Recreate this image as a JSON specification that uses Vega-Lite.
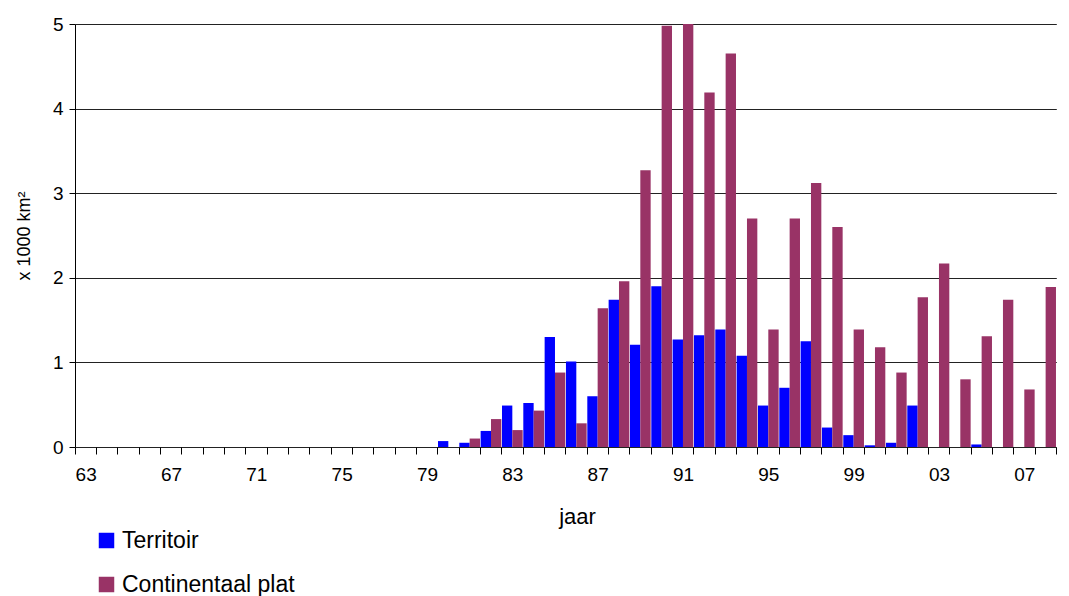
{
  "$schema": "https://vega.github.io/schema/vega-lite/v6.json",
  "width": 994,
  "height": 423,
  "autosize": {"type": "none"},
  "padding": {"left": 75, "top": 24, "right": 0, "bottom": 149},
  "background": "white",
  "config": {"view": {"stroke": null}, "font": "Liberation Sans"},
  "data": {
    "values": [
      {"jaar": 1980, "serie": "Territoir", "waarde": 0.07},
      {"jaar": 1980, "serie": "Continentaal plat", "waarde": 0},
      {"jaar": 1981, "serie": "Territoir", "waarde": 0.05},
      {"jaar": 1981, "serie": "Continentaal plat", "waarde": 0.10},
      {"jaar": 1982, "serie": "Territoir", "waarde": 0.19},
      {"jaar": 1982, "serie": "Continentaal plat", "waarde": 0.33},
      {"jaar": 1983, "serie": "Territoir", "waarde": 0.49},
      {"jaar": 1983, "serie": "Continentaal plat", "waarde": 0.20},
      {"jaar": 1984, "serie": "Territoir", "waarde": 0.52},
      {"jaar": 1984, "serie": "Continentaal plat", "waarde": 0.43},
      {"jaar": 1985, "serie": "Territoir", "waarde": 1.30},
      {"jaar": 1985, "serie": "Continentaal plat", "waarde": 0.88},
      {"jaar": 1986, "serie": "Territoir", "waarde": 1.01},
      {"jaar": 1986, "serie": "Continentaal plat", "waarde": 0.28},
      {"jaar": 1987, "serie": "Territoir", "waarde": 0.60},
      {"jaar": 1987, "serie": "Continentaal plat", "waarde": 1.64},
      {"jaar": 1988, "serie": "Territoir", "waarde": 1.74},
      {"jaar": 1988, "serie": "Continentaal plat", "waarde": 1.96},
      {"jaar": 1989, "serie": "Territoir", "waarde": 1.21},
      {"jaar": 1989, "serie": "Continentaal plat", "waarde": 3.27},
      {"jaar": 1990, "serie": "Territoir", "waarde": 1.90},
      {"jaar": 1990, "serie": "Continentaal plat", "waarde": 4.98},
      {"jaar": 1991, "serie": "Territoir", "waarde": 1.27},
      {"jaar": 1991, "serie": "Continentaal plat", "waarde": 5.00},
      {"jaar": 1992, "serie": "Territoir", "waarde": 1.32},
      {"jaar": 1992, "serie": "Continentaal plat", "waarde": 4.19},
      {"jaar": 1993, "serie": "Territoir", "waarde": 1.39},
      {"jaar": 1993, "serie": "Continentaal plat", "waarde": 4.65},
      {"jaar": 1994, "serie": "Territoir", "waarde": 1.08},
      {"jaar": 1994, "serie": "Continentaal plat", "waarde": 2.70},
      {"jaar": 1995, "serie": "Territoir", "waarde": 0.49},
      {"jaar": 1995, "serie": "Continentaal plat", "waarde": 1.39},
      {"jaar": 1996, "serie": "Territoir", "waarde": 0.70},
      {"jaar": 1996, "serie": "Continentaal plat", "waarde": 2.70},
      {"jaar": 1997, "serie": "Territoir", "waarde": 1.25},
      {"jaar": 1997, "serie": "Continentaal plat", "waarde": 3.12},
      {"jaar": 1998, "serie": "Territoir", "waarde": 0.23},
      {"jaar": 1998, "serie": "Continentaal plat", "waarde": 2.60},
      {"jaar": 1999, "serie": "Territoir", "waarde": 0.14},
      {"jaar": 1999, "serie": "Continentaal plat", "waarde": 1.39},
      {"jaar": 2000, "serie": "Territoir", "waarde": 0.02},
      {"jaar": 2000, "serie": "Continentaal plat", "waarde": 1.18},
      {"jaar": 2001, "serie": "Territoir", "waarde": 0.05},
      {"jaar": 2001, "serie": "Continentaal plat", "waarde": 0.88},
      {"jaar": 2002, "serie": "Territoir", "waarde": 0.49},
      {"jaar": 2002, "serie": "Continentaal plat", "waarde": 1.77},
      {"jaar": 2003, "serie": "Territoir", "waarde": 0},
      {"jaar": 2003, "serie": "Continentaal plat", "waarde": 2.17},
      {"jaar": 2004, "serie": "Territoir", "waarde": 0},
      {"jaar": 2004, "serie": "Continentaal plat", "waarde": 0.80},
      {"jaar": 2005, "serie": "Territoir", "waarde": 0.03},
      {"jaar": 2005, "serie": "Continentaal plat", "waarde": 1.31},
      {"jaar": 2006, "serie": "Territoir", "waarde": 0},
      {"jaar": 2006, "serie": "Continentaal plat", "waarde": 1.74},
      {"jaar": 2007, "serie": "Territoir", "waarde": 0},
      {"jaar": 2007, "serie": "Continentaal plat", "waarde": 0.68},
      {"jaar": 2008, "serie": "Territoir", "waarde": 0},
      {"jaar": 2008, "serie": "Continentaal plat", "waarde": 1.89}
    ]
  },
  "mark": {"type": "bar"},
  "encoding": {
    "x": {
      "field": "jaar",
      "type": "ordinal",
      "scale": {
        "domain": [1963,1964,1965,1966,1967,1968,1969,1970,1971,1972,1973,1974,1975,1976,1977,1978,1979,1980,1981,1982,1983,1984,1985,1986,1987,1988,1989,1990,1991,1992,1993,1994,1995,1996,1997,1998,1999,2000,2001,2002,2003,2004,2005,2006,2007,2008],
        "range": [0, 981.3],
        "paddingInner": 0.03,
        "paddingOuter": 0.015
      },
      "axis": {
        "title": "jaar",
        "labelExpr": "(datum.value - 1963) % 4 == 0 ? slice('' + datum.value, 2) : ''",
        "labelAngle": 0,
        "domain": false,
        "tickBand": "extent",
        "tickColor": "#000",
        "tickSize": 7,
        "labelFontSize": 19,
        "labelColor": "#000",
        "labelPadding": 11,
        "titleFontSize": 22,
        "titleFontWeight": "normal",
        "titleColor": "#000",
        "titlePadding": 22,
        "titleX": 502
      }
    },
    "xOffset": {
      "field": "serie",
      "type": "nominal",
      "sort": ["Territoir", "Continentaal plat"],
      "scale": {"paddingInner": 0, "paddingOuter": 0}
    },
    "y": {
      "field": "waarde",
      "type": "quantitative",
      "scale": {"domain": [0, 5], "nice": false},
      "axis": {
        "title": "x 1000 km²",
        "values": [0, 1, 2, 3, 4, 5],
        "grid": true,
        "gridColor": "#222",
        "gridWidth": 1,
        "domainColor": "#000",
        "tickColor": "#000",
        "tickSize": 6,
        "labelFontSize": 19,
        "labelColor": "#000",
        "labelPadding": 6,
        "titleFontSize": 18,
        "titleFontWeight": "normal",
        "titleColor": "#000",
        "titlePadding": 19
      }
    },
    "color": {
      "field": "serie",
      "type": "nominal",
      "sort": ["Territoir", "Continentaal plat"],
      "scale": {"domain": ["Territoir", "Continentaal plat"], "range": ["#0000FF", "#993366"]},
      "legend": {
        "orient": "none",
        "legendX": 20,
        "legendY": 505,
        "direction": "vertical",
        "title": null,
        "symbolType": "square",
        "symbolSize": 240,
        "symbolStrokeWidth": 0,
        "labelFontSize": 23,
        "labelColor": "#000",
        "labelLimit": 0,
        "rowPadding": 20,
        "labelOffset": 4,
        "padding": 0
      }
    }
  }
}
